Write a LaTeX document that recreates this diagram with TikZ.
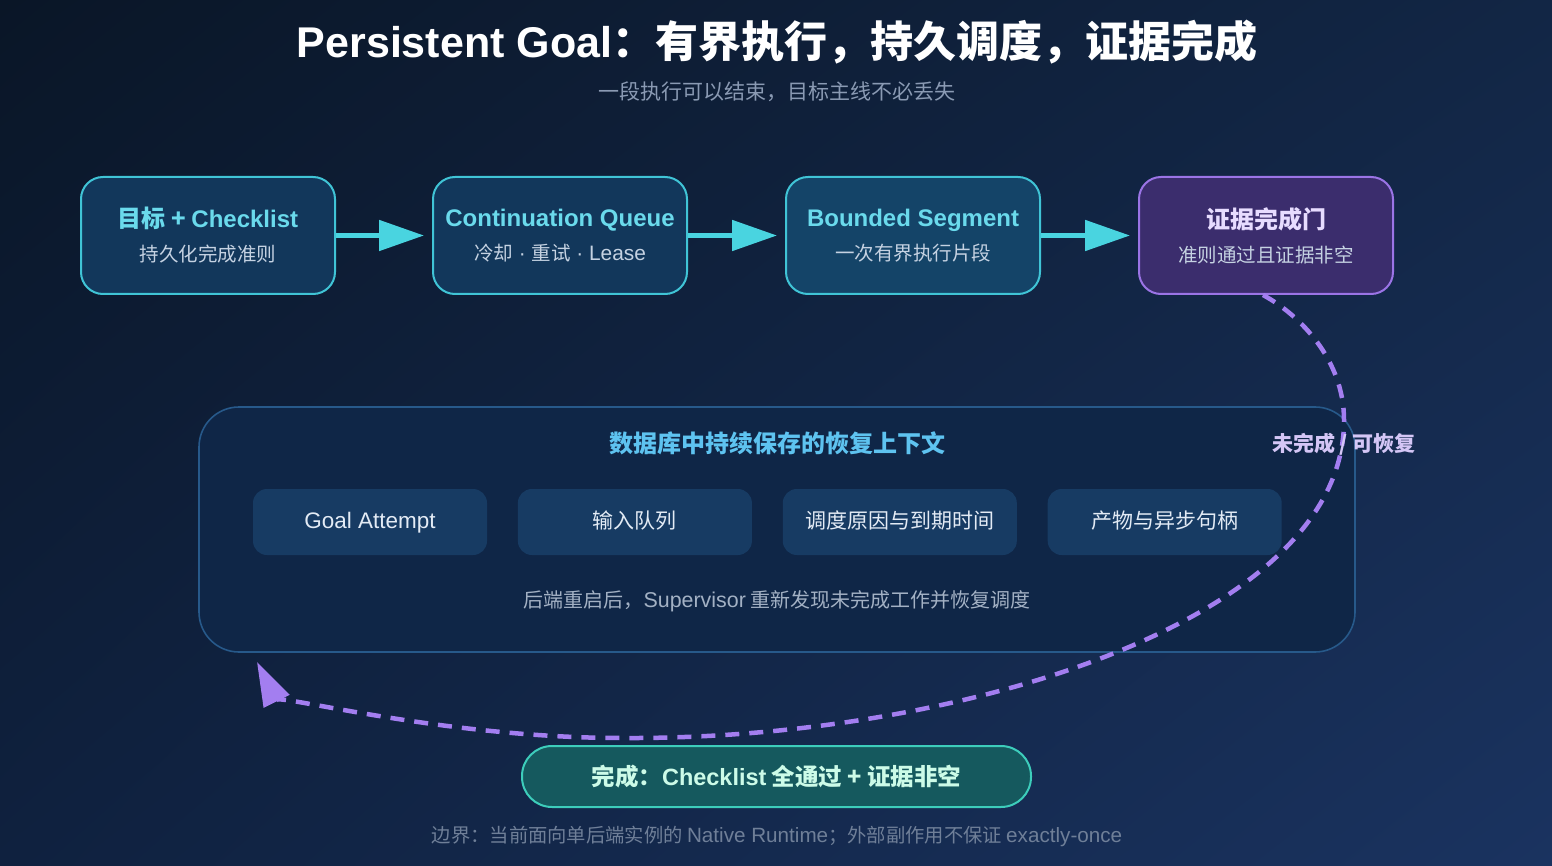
\documentclass[tikz,border=0pt]{standalone}
\usepackage{fontspec}
\setmainfont{Noto Sans CJK SC}
\newfontfamily\latin{Liberation Sans}[Scale=1.07]
\newfontfamily\latinbf{Liberation Sans}
\usepackage{xcolor}
\usepackage{tikz}
\usetikzlibrary{arrows.meta, positioning, shadings}

\definecolor{bgUL}{HTML}{0A1627}
\definecolor{bgUR}{HTML}{122645}
\definecolor{bgLL}{HTML}{0F213F}
\definecolor{bgLR}{HTML}{1A3360}
\definecolor{subtle}{HTML}{8A9AB3}
\definecolor{stageline}{HTML}{40C4D6}
\definecolor{stagefill}{HTML}{12375B}
\definecolor{segfill}{HTML}{144468}
\definecolor{stagetxt}{HTML}{6ADAEC}
\definecolor{subtxt}{HTML}{C5D2E2}
\definecolor{gateline}{HTML}{9B74E6}
\definecolor{gatefill}{HTML}{3B2D6D}
\definecolor{gatetxt}{HTML}{E7DCFF}
\definecolor{flow}{HTML}{49D4E0}
\definecolor{panelline}{HTML}{27598A}
\definecolor{panelfill}{HTML}{0F2647}
\definecolor{ctxtitle}{HTML}{5EC3F0}
\definecolor{slotfill}{HTML}{173B63}
\definecolor{slottxt}{HTML}{E3EBF5}
\definecolor{ctxnote}{HTML}{A3B1C4}
\definecolor{retry}{HTML}{A37EF0}
\definecolor{retrytxt}{HTML}{D4C6F6}
\definecolor{doneline}{HTML}{3DCDBB}
\definecolor{donefill}{HTML}{15595E}
\definecolor{donetxt}{HTML}{CCFBE8}
\definecolor{foot}{HTML}{6F7F98}

\newcommand{\fsz}[2]{\fontsize{#1}{#2}\selectfont}
\newcommand{\en}[1]{{\latin #1}}
\newcommand{\enb}[1]{{\latinbf #1}}

\begin{document}
\begin{tikzpicture}[
  x=1pt, y=-1pt,
  every node/.style={align=center, inner sep=0pt},
  stagebox/.style={draw=stageline, fill=stagefill, line width=2pt, rounded corners=22pt, minimum width=254pt, minimum height=117pt, text=stagetxt, font=\fsz{24}{34}\bfseries},
  gatebox/.style={stagebox, draw=gateline, fill=gatefill, text=gatetxt},
  ctxpanel/.style={draw=panelline, fill=panelfill, line width=1.6pt, rounded corners=40pt, minimum width=1156pt, minimum height=245pt},
  ctxslot/.style={fill=slotfill, rounded corners=14pt, minimum width=234pt, minimum height=66pt, text height=17pt, text depth=4pt, text=slottxt, font=\fsz{21}{25}},
  donebox/.style={draw=doneline, fill=donefill, line width=2pt, rounded corners=30pt, minimum width=509pt, minimum height=61pt, text=donetxt, font=\fsz{23.5}{27}\bfseries},
  flowarr/.style={-{Triangle[length=45pt,width=30pt]}, line width=5pt, draw=flow, shorten >=8pt},
  retryarr/.style={-{Triangle[length=44pt,width=28pt]}, line width=4.5pt, draw=retry, dash pattern=on 14pt off 10pt},
]
\useasboundingbox (0,0) rectangle (1552,866);
\shade[upper left=bgUL, upper right=bgUR, lower left=bgLL, lower right=bgLR] (0,0) rectangle (1552,866);

% Title
\node[font=\fsz{43}{46}\bfseries, text=white] (title) at (777,42) {\enb{Persistent Goal}：有界执行，持久调度，证据完成};
\node[font=\fsz{21}{24}, text=subtle] (subtitle) at (777,92) {一段执行可以结束，目标主线不必丢失};

% Row 1 — execution chain
\node[stagebox] (goal) at (208,235.5) {目标 + \enb{Checklist}\\{\mdseries\fsz{19.5}{34}\color{subtxt}持久化完成准则}};
\node[stagebox, right=96pt of goal] (queue) {\enb{Continuation Queue}\\{\mdseries\fsz{19.5}{34}\color{subtxt}冷却\en{ · }重试\en{ · }\en{Lease}}};
\node[stagebox, fill=segfill, right=97pt of queue] (segment) {\enb{Bounded Segment}\\{\mdseries\fsz{19.5}{34}\color{subtxt}一次有界执行片段}};
\node[gatebox, right=97pt of segment] (gate) {证据完成门\\{\mdseries\fsz{19.5}{34}\color{subtxt}准则通过且证据非空}};

% Row 2 — persisted recovery context
\node[ctxpanel] (ctx) at (777,529.5) {};
\node[font=\fsz{24}{28}\bfseries, text=ctxtitle] (ctxhead) at (777,443) {数据库中持续保存的恢复上下文};
\node[ctxslot] (attempt) at (370,522) {\en{Goal Attempt}};
\node[ctxslot, right=30.5pt of attempt] (inbox) {输入队列};
\node[ctxslot, right=30.5pt of inbox] (due) {调度原因与到期时间};
\node[ctxslot, right=30.5pt of due] (handles) {产物与异步句柄};
\node[font=\fsz{20}{24}, text=ctxnote] (restart) at (777,601) {后端重启后，\en{Supervisor} 重新发现未完成工作并恢复调度};

% Row 3 — completion and scope
\node[donebox] (done) at (776.5,776.5) {完成：\enb{Checklist} 全通过 + 证据非空};
\node[font=\fsz{19.3}{22}, text=foot] (scope) at (777,836) {边界：当前面向单后端实例的 \en{Native Runtime}；外部副作用不保证 \en{exactly-once}};

% arrows
\draw[flowarr] (goal) -- (queue);
\draw[flowarr] (queue) -- (segment);
\draw[flowarr] (segment) -- (gate);

\coordinate (back) at (257,662);
\draw[retryarr] ([xshift=-3pt]gate.south) .. controls (1300,315) and (1344,360) .. (1344,420)
  .. controls (1345,620) and (960,740) .. (622,738)
  .. controls (440,738) and (272,692) .. (back);
\node[font=\fsz{21}{24}\bfseries, text=retrytxt] (resume) at (1344,444) {未完成 / 可恢复};

\end{tikzpicture}
\end{document}
